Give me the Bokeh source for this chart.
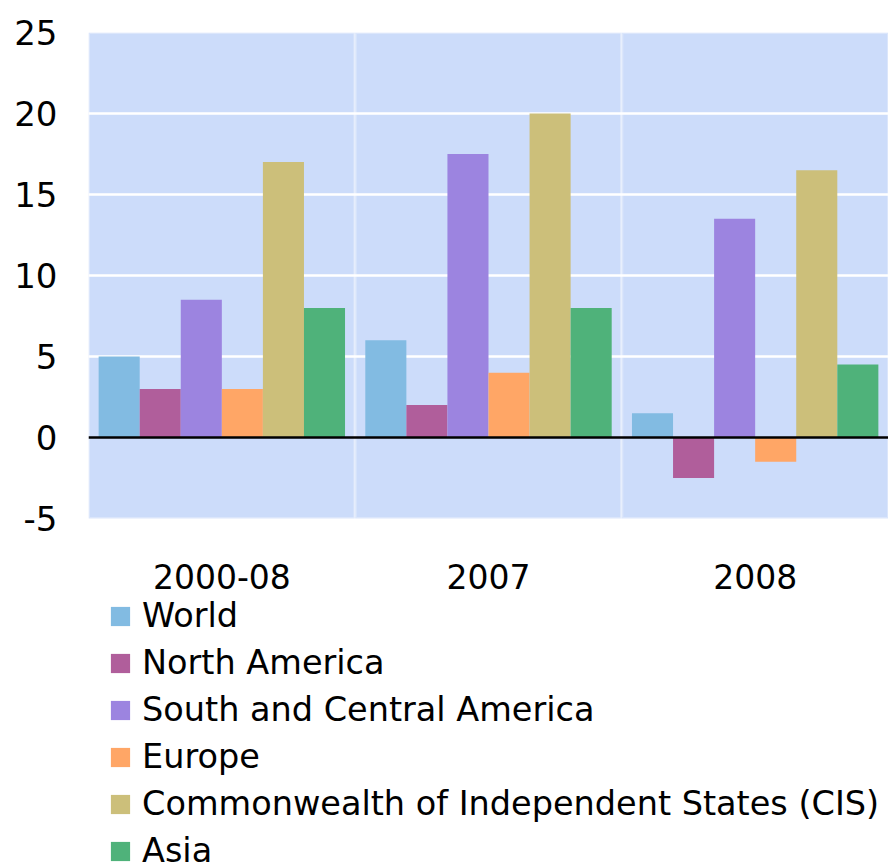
from bokeh.plotting import figure
from bokeh.models import (Range1d, FixedTicker, Span, Legend, LegendItem,
                          ColumnDataSource, BoxAnnotation)
from bokeh.core.properties import value
from bokeh.embed import file_html
from bokeh.resources import INLINE

periods = ["2000-08", "2007", "2008"]
regions = ["World", "North America", "South and Central America", "Europe",
           "Commonwealth of Independent States (CIS)", "Asia"]
world = [5, 6, 1.5]
north_america = [3, 2, -2.5]
south_central_america = [8.5, 17.5, 13.5]
europe = [3, 4, -1.5]
cis = [17, 20, 16.5]
asia = [8, 8, 4.5]
series = [world, north_america, south_central_america, europe, cis, asia]
colors = ["#82BBE2", "#B05E9B", "#9C84E0", "#FFA666", "#CCBF7A", "#4FB27A"]
y_ticks = [-5, 0, 5, 10, 15, 20, 25]

FONT = "DejaVu Sans"
Y_MIN, Y_MAX = -5, 25
PLOT_H = 486          # height of the blue plotting area in px
BELOW_H = 350         # room under it for the period labels and legend
px_per_unit = PLOT_H / (Y_MAX - Y_MIN)

p = figure(width=888, height=868, output_backend="svg", toolbar_location=None,
           x_range=Range1d(0, len(periods)),
           y_range=Range1d(Y_MIN - BELOW_H / px_per_unit, Y_MAX),
           x_axis_location=None,
           min_border_left=88, min_border_right=0, min_border_top=32,
           min_border_bottom=0)
p.background_fill_color = "white"
p.border_fill_color = "white"
p.outline_line_color = None

# blue panels, one per period; their white edges act as the vertical separators
for i in range(len(periods)):
    p.add_layout(BoxAnnotation(left=i, right=i + 1, bottom=Y_MIN, top=Y_MAX,
                               fill_color="#CCDCFA", fill_alpha=1,
                               line_color="white", line_width=3, level="image"))

bar_w = 0.154
centers = [i + 0.5 for i in range(len(periods))]
items = []
for j, (name, vals, col) in enumerate(zip(regions, series, colors)):
    src = ColumnDataSource(data=dict(x=[c + (j - 2.5) * bar_w for c in centers], top=vals))
    r = p.vbar(x="x", top="top", bottom=0, width=bar_w, source=src,
               fill_color=col, line_color=None)
    items.append(LegendItem(label=name, renderers=[r]))

p.add_layout(Span(location=0, dimension="width", line_color="black", line_width=2.3))

# period labels under the panels
lbl_src = ColumnDataSource(data=dict(x=centers, y=[Y_MIN] * len(periods), t=periods))
p.text(x="x", y="y", text="t", source=lbl_src, y_offset=58,
       text_align="center", text_baseline="middle",
       text_font=value(FONT), text_font_size="33px", text_color="black")

# y axis
p.yaxis.ticker = FixedTicker(ticks=y_ticks)
p.yaxis.major_label_overrides = {t: str(t) for t in y_ticks}
p.yaxis.axis_line_color = None
p.yaxis.major_tick_line_color = None
p.yaxis.minor_tick_line_color = None
p.yaxis.major_tick_out = 0
p.yaxis.major_tick_in = 0
p.yaxis.major_label_text_font = FONT
p.yaxis.major_label_text_font_size = "34px"
p.yaxis.major_label_text_color = "black"
p.yaxis.major_label_standoff = 31

# grid: only the horizontal white lines
for g in p.grid:
    if g.dimension == 0:
        g.visible = False
p.ygrid.ticker = FixedTicker(ticks=[5, 10, 15, 20])
p.ygrid.grid_line_color = "white"
p.ygrid.grid_line_width = 2.5

legend = Legend(items=items, location=(20, -2), orientation="vertical",
                glyph_width=24, glyph_height=24, spacing=8,
                label_standoff=10, padding=0, margin=0,
                border_line_color=None, background_fill_alpha=0,
                label_text_font=FONT, label_text_font_size="33.5px",
                label_text_color="black")
p.add_layout(legend)

open("out.html", "w").write(file_html(p, INLINE))
